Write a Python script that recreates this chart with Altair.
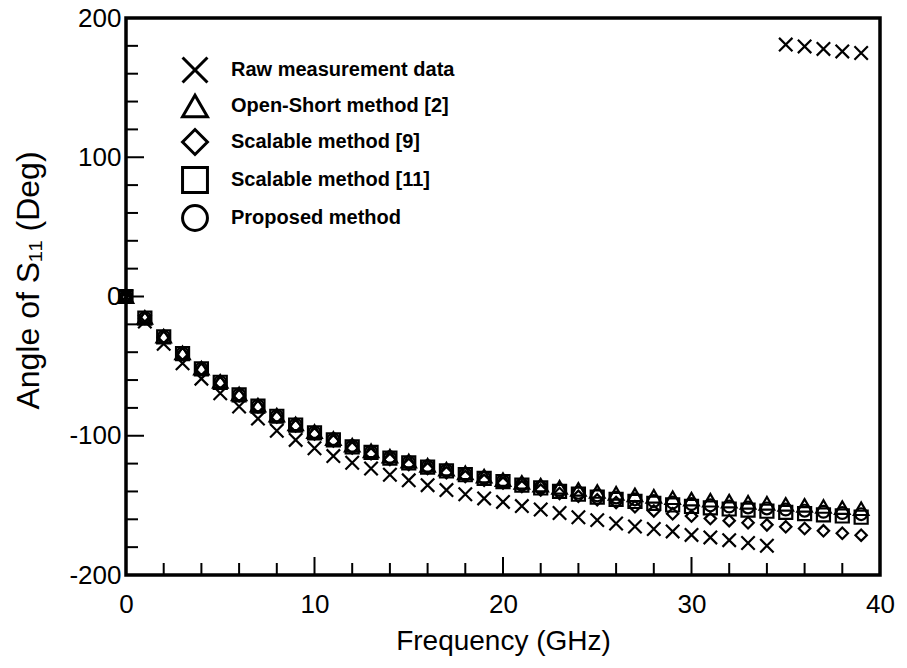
import altair as alt
import pandas as pd

# Frequency sweep (GHz) and phase of S11 (degrees) for each de-embedding approach
freq_ghz = list(range(40))

raw_measurement = [0, -18, -34, -48, -59, -69.5, -79, -87.7, -96.4, -103,
                   -109, -114.6, -119.4, -123.5, -128, -132, -135.5, -139, -142, -145,
                   -147.5, -150.5, -153, -155.5, -158.5, -160.6, -163, -165.2, -167, -168.7,
                   -171.2, -173, -175, -177, -179, 180.9, 179.6, 177.8, 176, 174.9]

open_short = [0, -15, -28.5, -40.5, -51.5, -61, -70, -78, -85.2, -91.5,
              -97, -102, -106.8, -110.8, -114.7, -118.2, -121.2, -124, -126.6, -129,
              -131.5, -133.5, -135.5, -137, -138.5, -140, -141.3, -142.5, -143.5, -144.5,
              -145.5, -146.3, -147, -147.8, -148.5, -149.3, -150, -150.8, -151.6, -152.4]

scalable_9 = [0, -15.7, -29.3, -41.3, -52.3, -62, -71.2, -79.2, -86.6, -93,
              -98.7, -103.8, -108.8, -113, -117, -120.6, -123.6, -126.5, -129.3, -132,
              -134, -136.5, -139, -141.5, -143.5, -146, -148, -151, -154, -156,
              -157.7, -159.5, -161, -162.5, -164, -165.4, -166.6, -168.3, -170, -171.4]

scalable_11 = [0, -15.5, -29, -41, -52, -61.6, -70.7, -78.7, -86, -92.3,
               -98, -103, -108, -112, -116, -119.5, -122.5, -125.3, -128, -130.6,
               -133, -135.5, -137.5, -140, -142, -144, -145.7, -147.2, -148.5, -149.7,
               -150.8, -151.8, -152.6, -153.4, -154.2, -155, -155.9, -156.8, -157.6, -158.5]

proposed = [0, -15.4, -28.8, -40.8, -51.8, -61.3, -70.4, -78.4, -85.7, -92,
            -97.6, -102.6, -107.6, -111.6, -115.5, -119, -122, -124.8, -127.5, -130,
            -132.5, -135, -137, -139, -141, -142.8, -144.3, -145.7, -146.9, -148,
            -149, -150, -150.8, -151.5, -152.2, -153, -153.8, -154.6, -155.5, -156.3]

series_names = ["Raw measurement data", "Open-Short method [2]", "Scalable method [9]",
                "Scalable method [11]", "Proposed method"]
series_values = [raw_measurement, open_short, scalable_9, scalable_11, proposed]

# Axis tick positions
x_labels = [0, 10, 20, 30, 40]
x_major_ticks = [10, 20, 30]
x_minor_ticks = [2, 4, 6, 8, 12, 14, 16, 18, 22, 24, 26, 28, 32, 34, 36, 38]
y_labels = [-200, -100, 0, 100, 200]
y_major_ticks = [-100, 0, 100]
y_minor_ticks = [-180, -160, -140, -120, -80, -60, -40, -20,
                 20, 40, 60, 80, 120, 140, 160, 180]

# Marker styling
marker_shapes = ["M-1,-1L1,1M-1,1L1,-1", "triangle-up", "diamond", "square", "circle"]
marker_sizes = [180, 210, 130, 170, 140]

FONT = "Liberation Sans"
W, H = 754, 557

rows = []
for name, vals in zip(series_names, series_values):
    for f, v in zip(freq_ghz, vals):
        rows.append({"freq": f, "angle": v, "method": name})
df = pd.DataFrame(rows)

x_scale = alt.Scale(domain=[0, 40], nice=False, zero=False)
y_scale = alt.Scale(domain=[-200, 200], nice=False, zero=False)
shape_scale = alt.Scale(domain=series_names, range=marker_shapes)

# plain hyphen for negative tick labels
hyphen_label = "datum.value < 0 ? '-' + abs(datum.value) : '' + datum.value"

x_axis = alt.Axis(values=x_labels, domain=False, ticks=False, grid=False,
                  labelFont=FONT, labelFontSize=26, labelColor="black",
                  labelPadding=16, labelFlush=False, labelOverlap=False,
                  labelExpr=hyphen_label,
                  title="Frequency (GHz)", titleFont=FONT, titleFontSize=28,
                  titleFontWeight="normal", titleColor="black",
                  titleX=W / 2, titleY=66, titleBaseline="middle", titleAlign="center")
y_axis = alt.Axis(values=y_labels, domain=False, ticks=False, grid=False,
                  labelFont=FONT, labelFontSize=26, labelColor="black",
                  labelPadding=5, labelFlush=False, labelOverlap=False,
                  labelExpr=hyphen_label,
                  title="Angle of S₁₁  (Deg)", titleFont=FONT, titleFontSize=32,
                  titleFontWeight="normal", titleColor="black",
                  titleX=-98, titleY=262, titleAngle=270,
                  titleBaseline="middle", titleAlign="center")

legend = alt.Legend(title=None, orient="none", legendX=55, legendY=38,
                    symbolSize=620, symbolStrokeWidth=3,
                    symbolStrokeColor="black", symbolFillColor="transparent",
                    labelFont=FONT, labelFontSize=20, labelFontWeight="bold",
                    labelColor="black", labelOffset=22, rowPadding=0, labelLimit=400)

# one layer per method so each marker keeps its own size
point_layers = []
for name, size in zip(series_names, marker_sizes):
    point_layers.append(
        alt.Chart(df).transform_filter(alt.datum.method == name)
        .mark_point(filled=False, strokeWidth=2.2, opacity=1, color="black", size=size)
        .encode(
            x=alt.X("freq:Q", scale=x_scale, axis=x_axis),
            y=alt.Y("angle:Q", scale=y_scale, axis=y_axis),
            shape=alt.Shape("method:N", scale=shape_scale, legend=legend),
        )
    )

y_major = alt.Chart(pd.DataFrame({"t": y_major_ticks})).mark_rule(color="black", strokeWidth=2).encode(
    y=alt.Y("t:Q", scale=y_scale, axis=y_axis), x=alt.value(0), x2=alt.value(18))
y_minor = alt.Chart(pd.DataFrame({"t": y_minor_ticks})).mark_rule(color="black", strokeWidth=2).encode(
    y=alt.Y("t:Q", scale=y_scale, axis=y_axis), x=alt.value(0), x2=alt.value(12))
x_major = alt.Chart(pd.DataFrame({"t": x_major_ticks})).mark_rule(color="black", strokeWidth=2).encode(
    x=alt.X("t:Q", scale=x_scale, axis=x_axis), y=alt.value(H), y2=alt.value(H - 18))
x_minor = alt.Chart(pd.DataFrame({"t": x_minor_ticks})).mark_rule(color="black", strokeWidth=2).encode(
    x=alt.X("t:Q", scale=x_scale, axis=x_axis), y=alt.value(H), y2=alt.value(H - 12))

chart = alt.layer(y_major, y_minor, x_major, x_minor, *point_layers).properties(
    width=W, height=H,
    autosize=alt.AutoSizeParams(type="none"),
    padding={"left": 126, "top": 18, "right": 27, "bottom": 93},
    background="white",
).configure_view(stroke="black", strokeWidth=3.5)

chart.save("out.html", embed_options={"renderer": "svg", "actions": False})
